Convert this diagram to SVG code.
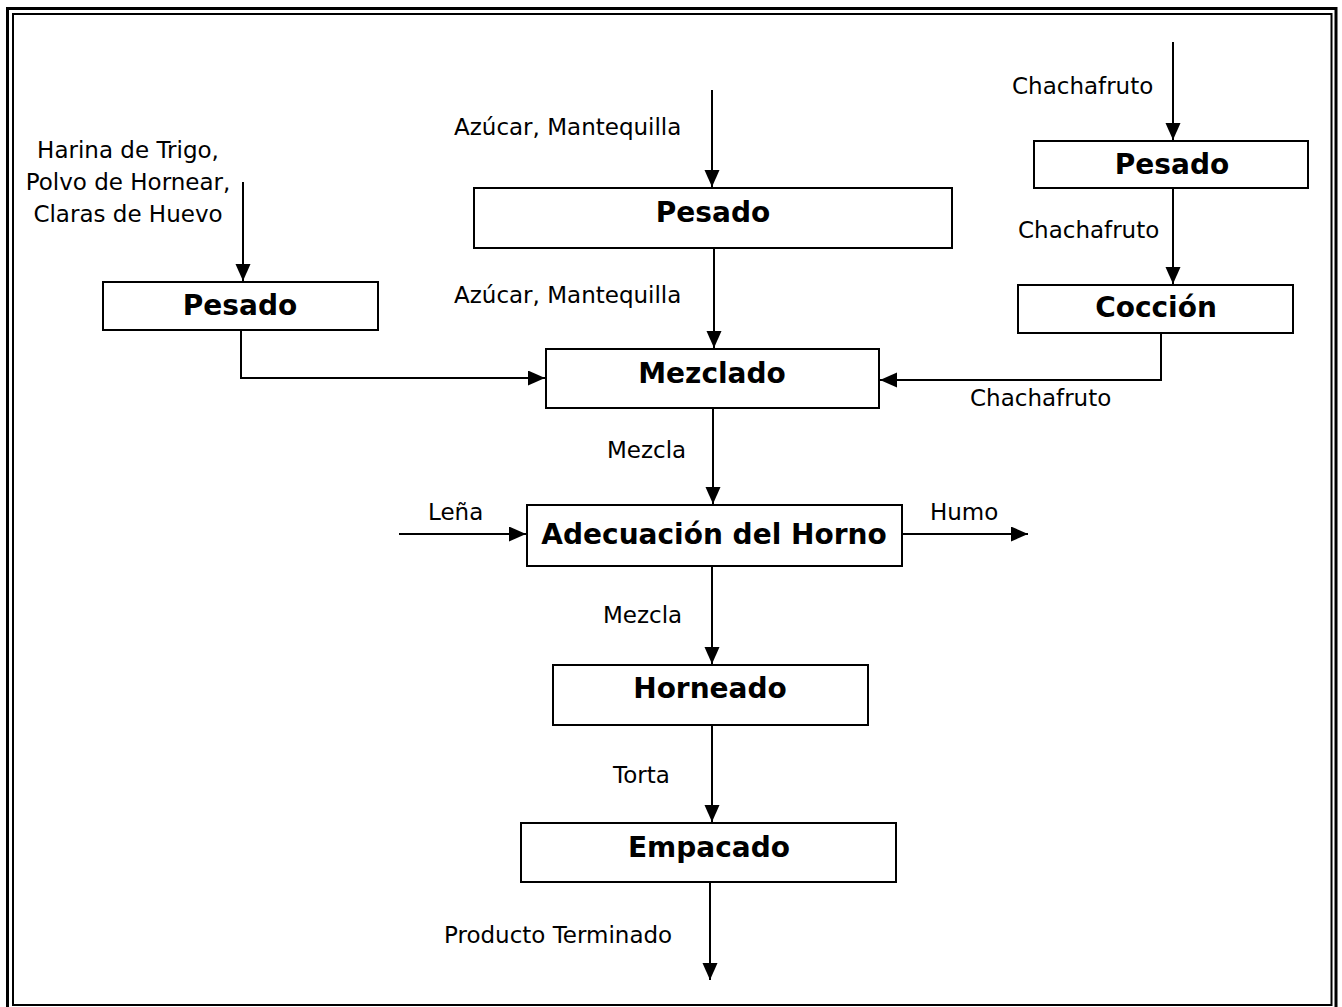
<svg xmlns="http://www.w3.org/2000/svg" width="1342" height="1007" viewBox="0 0 1342 1007">
<style>
.box{fill:#fff;stroke:#000;stroke-width:2}
.nt{font-family:"DejaVu Sans",sans-serif;font-weight:bold;font-size:28px;text-anchor:middle;fill:#000}
.lb{font-family:"DejaVu Sans",sans-serif;font-size:23px;fill:#000}
.c{fill:none;stroke:#000;stroke-width:2}
</style>
<defs>
<marker id="ah" markerUnits="userSpaceOnUse" markerWidth="18" markerHeight="16" refX="17" refY="7.5" orient="auto">
<path d="M0,0 L17,7.5 L0,15 Z" fill="#000"/>
</marker>
</defs>
<rect x="0" y="0" width="1342" height="1007" fill="#fff"/>
<rect x="7.5" y="8.5" width="1328.5" height="1010" fill="none" stroke="#000" stroke-width="3"/>
<rect x="13" y="14" width="1318.5" height="991" fill="none" stroke="#000" stroke-width="2"/>

<g id="connectors">
<path class="c" d="M243,182 V281" marker-end="url(#ah)"/>
<path class="c" d="M241,330 V378 H545" marker-end="url(#ah)"/>
<path class="c" d="M712,90 V187" marker-end="url(#ah)"/>
<path class="c" d="M714,248 V348" marker-end="url(#ah)"/>
<path class="c" d="M1173,42 V140" marker-end="url(#ah)"/>
<path class="c" d="M1173,188 V284" marker-end="url(#ah)"/>
<path class="c" d="M1161,333 V380 H880" marker-end="url(#ah)"/>
<path class="c" d="M713,408 V504" marker-end="url(#ah)"/>
<path class="c" d="M399,534 H526" marker-end="url(#ah)"/>
<path class="c" d="M902,534 H1028" marker-end="url(#ah)"/>
<path class="c" d="M712,566 V664" marker-end="url(#ah)"/>
<path class="c" d="M712,725 V822" marker-end="url(#ah)"/>
<path class="c" d="M710,882 V980" marker-end="url(#ah)"/>
</g>

<g id="labels">
<text class="lb" x="128" y="158" text-anchor="middle">Harina de Trigo,</text>
<text class="lb" x="128" y="190" text-anchor="middle">Polvo de Hornear,</text>
<text class="lb" x="128" y="222" text-anchor="middle">Claras de Huevo</text>
<text class="lb" x="454" y="135">Azúcar, Mantequilla</text>
<text class="lb" x="454" y="303">Azúcar, Mantequilla</text>
<text class="lb" x="1012" y="94">Chachafruto</text>
<text class="lb" x="1018" y="238">Chachafruto</text>
<text class="lb" x="970" y="406">Chachafruto</text>
<text class="lb" x="607" y="458">Mezcla</text>
<text class="lb" x="428" y="520">Leña</text>
<text class="lb" x="930" y="520">Humo</text>
<text class="lb" x="603" y="623">Mezcla</text>
<text class="lb" x="613" y="783">Torta</text>
<text class="lb" x="444" y="943">Producto Terminado</text>
</g>

<g id="pesado1"><rect class="box" x="103" y="282" width="275" height="48"/><text class="nt" x="240" y="315">Pesado</text></g>
<g id="pesado2"><rect class="box" x="474" y="188" width="478" height="60"/><text class="nt" x="713" y="222">Pesado</text></g>
<g id="pesado3"><rect class="box" x="1034" y="141" width="274" height="47"/><text class="nt" x="1172" y="174">Pesado</text></g>
<g id="coccion"><rect class="box" x="1018" y="285" width="275" height="48"/><text class="nt" x="1156" y="317">Cocción</text></g>
<g id="mezclado"><rect class="box" x="546" y="349" width="333" height="59"/><text class="nt" x="712" y="383">Mezclado</text></g>
<g id="adecuacion"><rect class="box" x="527" y="505" width="375" height="61"/><text class="nt" x="714" y="544">Adecuación del Horno</text></g>
<g id="horneado"><rect class="box" x="553" y="665" width="315" height="60"/><text class="nt" x="710" y="698">Horneado</text></g>
<g id="empacado"><rect class="box" x="521" y="823" width="375" height="59"/><text class="nt" x="709" y="857">Empacado</text></g>
</svg>
